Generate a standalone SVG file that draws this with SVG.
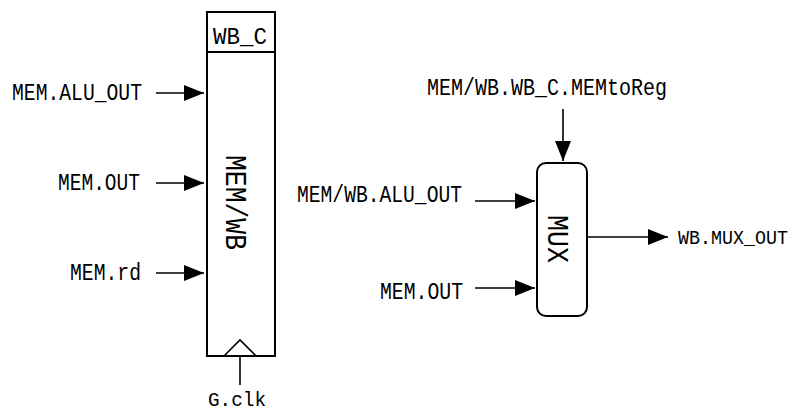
<svg xmlns="http://www.w3.org/2000/svg" width="800" height="414" viewBox="0 0 800 414">
<style>
  text { font-family: "Liberation Mono", "DejaVu Sans Mono", monospace; font-size: 23px; fill: #000; }
  .big { font-size: 30px; }
  .sm { font-size: 20px; }
  .box { fill: #fff; stroke: #000; stroke-width: 2; }
  .wire { stroke: #000; stroke-width: 1.6; fill: none; }
</style>
<defs>
  <marker id="arr" markerWidth="20" markerHeight="16" refX="20" refY="8" orient="auto" markerUnits="userSpaceOnUse">
    <path d="M0,0 L20,8 L0,16 Z" fill="#000"/>
  </marker>
</defs>
<rect width="800" height="414" fill="#fff"/>

<g id="memwb">
  <rect class="box" x="207" y="12" width="68" height="344"/>
  <line class="box" x1="207" y1="52" x2="275" y2="52"/>
  <text x="213" y="44" textLength="54" lengthAdjust="spacingAndGlyphs">WB_C</text>
  <text class="big" transform="translate(226,202) rotate(90)" x="-47" y="0" textLength="95" lengthAdjust="spacingAndGlyphs">MEM/WB</text>
  <polyline class="wire" points="224,356 240,340 256,356"/>
</g>

<g id="mux">
  <rect class="box" x="537" y="163" width="50" height="153" rx="9" ry="9"/>
  <text class="big" transform="translate(548,239) rotate(90)" x="-24" y="0" textLength="48" lengthAdjust="spacingAndGlyphs">MUX</text>
</g>

<g id="labels">
  <text x="12" y="100" textLength="130" lengthAdjust="spacingAndGlyphs">MEM.ALU_OUT</text>
  <text x="58" y="190" textLength="82" lengthAdjust="spacingAndGlyphs">MEM.OUT</text>
  <text x="70" y="280" textLength="71" lengthAdjust="spacingAndGlyphs">MEM.rd</text>
  <text class="sm" x="208" y="406" textLength="58" lengthAdjust="spacingAndGlyphs">G.clk</text>
  <text x="427" y="95" textLength="240" lengthAdjust="spacingAndGlyphs">MEM/WB.WB_C.MEMtoReg</text>
  <text x="297" y="202" textLength="165" lengthAdjust="spacingAndGlyphs">MEM/WB.ALU_OUT</text>
  <text x="380" y="299" textLength="83" lengthAdjust="spacingAndGlyphs">MEM.OUT</text>
  <text class="sm" x="678" y="244" textLength="110" lengthAdjust="spacingAndGlyphs">WB.MUX_OUT</text>
</g>

<g id="connectors">
  <line class="wire" x1="156" y1="93" x2="204" y2="93" marker-end="url(#arr)"/>
  <line class="wire" x1="156" y1="183" x2="204" y2="183" marker-end="url(#arr)"/>
  <line class="wire" x1="156" y1="273" x2="204" y2="273" marker-end="url(#arr)"/>
  <line class="wire" x1="240" y1="356" x2="240" y2="385"/>
  <line class="wire" x1="563" y1="109" x2="563" y2="161" marker-end="url(#arr)"/>
  <line class="wire" x1="475" y1="201" x2="535" y2="201" marker-end="url(#arr)"/>
  <line class="wire" x1="475" y1="288" x2="535" y2="288" marker-end="url(#arr)"/>
  <line class="wire" x1="588" y1="237" x2="668" y2="237" marker-end="url(#arr)"/>
</g>
</svg>
